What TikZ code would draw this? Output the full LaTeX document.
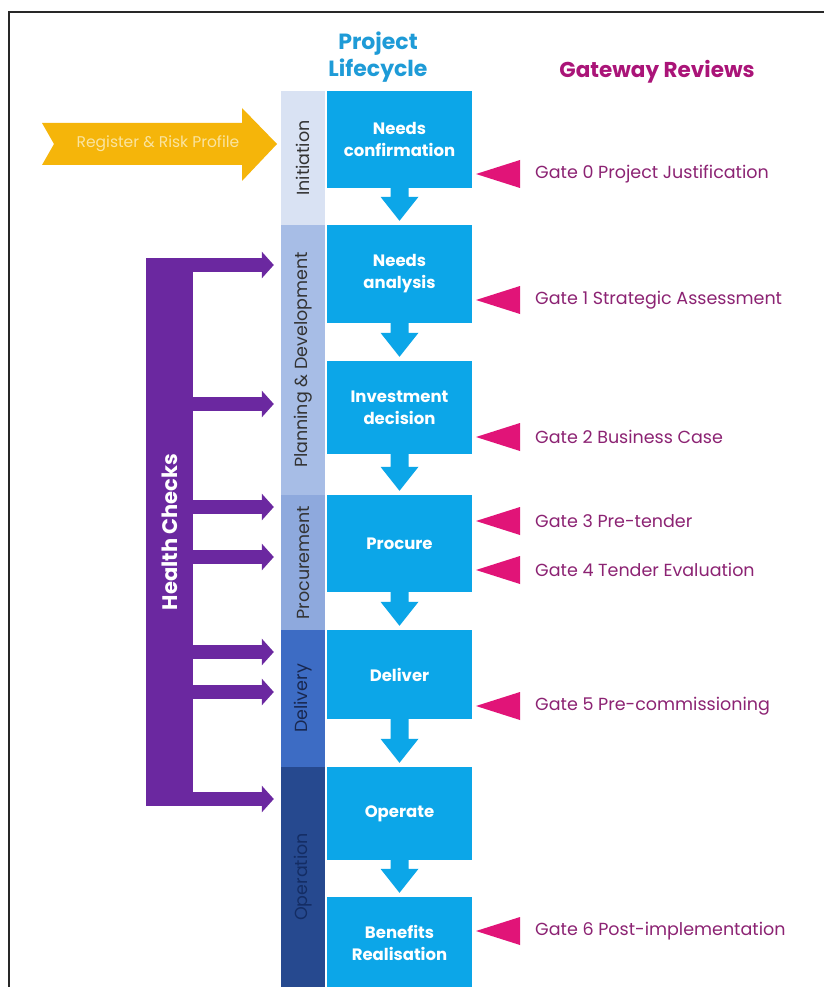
\documentclass[tikz,border=0pt]{standalone}
\usepackage{fontspec}
\setmainfont{Poppins}
\usetikzlibrary{calc,arrows.meta}
\definecolor{boxblue}{RGB}{12,166,232}
\definecolor{titleblue}{RGB}{30,155,215}
\definecolor{phA}{RGB}{217,226,243}
\definecolor{phB}{RGB}{167,189,230}
\definecolor{phC}{RGB}{142,169,221}
\definecolor{phD}{RGB}{61,108,196}
\definecolor{phE}{RGB}{38,73,143}
\definecolor{hcpurple}{RGB}{107,40,160}
\definecolor{regyellow}{RGB}{245,181,10}
\definecolor{regtext}{RGB}{250,228,160}
\definecolor{gatepink}{RGB}{225,20,120}
\definecolor{gatetext}{RGB}{140,35,115}
\definecolor{gwtitle}{RGB}{170,20,120}
\definecolor{framegray}{RGB}{40,40,40}
\tikzset{
  phase/.style={rotate=90, minimum height=44pt, inner sep=0pt, font=\fontsize{17.5}{20}\selectfont},
  stagebox/.style={fill=boxblue, minimum width=145pt, inner sep=0pt, text=white, align=center, font=\bfseries\fontsize{16.5}{22}\selectfont},
  gatelbl/.style={anchor=west, inner sep=0pt, text=gatetext, font=\fontsize{17.5}{20}\selectfont},
  hcarrow/.style={hcpurple, line width=14pt, -{Triangle[width=26pt,length=12pt]}, shorten >=7pt},
}
\begin{document}
\begin{tikzpicture}[x=1pt,y=-1pt]
\useasboundingbox (0,0) rectangle (824,987);
\fill[white] (0,0) rectangle (824,987);
\draw[framegray, line width=2pt] (8.5,987) -- (8.5,12.5) -- (824,12.5);

% titles
\node[text=titleblue, align=center, font=\bfseries\fontsize{22}{27}\selectfont] (plc) at (378,57) {Project\\Lifecycle};
\node[text=gwtitle, font=\bfseries\fontsize{21.5}{24}\selectfont] (gwr) at (657,72) {Gateway Reviews};

% phases
\node[phase, fill=phA, minimum width=134pt, text=black!80] (ph1) at (303,158) {Initiation};
\node[phase, fill=phB, minimum width=270pt, text=black!80] (ph2) at (303,360) {Planning \& Development};
\node[phase, fill=phC, minimum width=135pt, text=black!80] (ph3) at (303,562.5) {Procurement};
\node[phase, fill=phD, minimum width=137pt, text={rgb,255:red,25;green,40;blue,80}] (ph4) at (303,698.5) {Delivery};
\node[phase, fill=phE, minimum width=220pt, text={rgb,255:red,20;green,45;blue,100}] (ph5) at (303,877) {Operation};

% stage boxes
\node[stagebox, minimum height=97pt] (b1) at (399.5,139.5) {Needs\\confirmation};
\node[stagebox, minimum height=98pt] (b2) at (399.5,274) {Needs\\analysis};
\node[stagebox, minimum height=93pt] (b3) at (399.5,407.5) {Investment\\decision};
\node[stagebox, minimum height=97pt] (b4) at (399.5,543.5) {Procure};
\node[stagebox, minimum height=89pt] (b5) at (399.5,674.5) {Deliver};
\node[stagebox, minimum height=93pt] (b6) at (399.5,813.5) {Operate};
\node[stagebox, minimum height=92pt] (b7) at (399.5,943) {Benefits\\Realisation};

% down block arrows
\foreach \a/\b in {b1/b2,b2/b3,b3/b4,b4/b5,b5/b6,b6/b7}{
  \fill[boxblue] ($(\a.south)+(-9,0)$) -- ($(\a.south)+(9,0)$) -- ($(\b.north)+(9,-28)$)
    -- ($(\b.north)+(19,-28)$) -- ($(\b.north)+(0,-4)$) -- ($(\b.north)+(-19,-28)$)
    -- ($(\b.north)+(-9,-28)$) -- cycle;
}

% register arrow
\fill[regyellow] (42,123) -- (242,123) -- (242,108) -- (277,144) -- (242,181) -- (242,165) -- (42,165) -- (54,144) -- cycle;
\node[text=regtext, font=\fontsize{15.5}{18}\selectfont] (reg) at (158,144) {Register \& Risk Profile};

% health checks
\node[fill=hcpurple, rotate=90, minimum width=548pt, minimum height=47pt, inner sep=0pt, text=white, font=\bfseries\fontsize{21}{24}\selectfont] (hc) at (169.5,532) {Health Checks};
\coordinate (y1) at (0,265);
\coordinate (y2) at (0,404);
\coordinate (y3) at (0,507);
\coordinate (y4) at (0,557);
\coordinate (y5) at (0,652);
\coordinate (y6) at (0,692);
\coordinate (y7) at (0,799);
\draw[hcarrow] ($(hc.south |- y1)+(-0.5,0)$) -- (ph2.north |- y1);
\draw[hcarrow] ($(hc.south |- y2)+(-0.5,0)$) -- (ph2.north |- y2);
\draw[hcarrow] ($(hc.south |- y3)+(-0.5,0)$) -- (ph3.north |- y3);
\draw[hcarrow] ($(hc.south |- y4)+(-0.5,0)$) -- (ph3.north |- y4);
\draw[hcarrow] ($(hc.south |- y5)+(-0.5,0)$) -- (ph4.north |- y5);
\draw[hcarrow] ($(hc.south |- y6)+(-0.5,0)$) -- (ph4.north |- y6);
\draw[hcarrow] ($(hc.south |- y7)+(-0.5,0)$) -- (ph5.north |- y7);

% gates
\node[gatelbl] (g0) at (535,174) {Gate 0 Project Justification};
\node[gatelbl] (g1) at (535,300) {Gate 1 Strategic Assessment};
\node[gatelbl] (g2) at (535,437) {Gate 2 Business Case};
\node[gatelbl] (g3) at (535,521) {Gate 3 Pre-tender};
\node[gatelbl] (g4) at (535,570) {Gate 4 Tender Evaluation};
\node[gatelbl] (g5) at (535,706) {Gate 5 Pre-commissioning};
\node[gatelbl] (g6) at (535,931) {Gate 6 Post-implementation};
\foreach \g in {g0,g1,g2,g3,g4,g5,g6}{
  \fill[gatepink] ($(\g.west)+(-59,0)$) -- ($(\g.west)+(-15,-14)$) -- ($(\g.west)+(-15,14)$) -- cycle;
}
\end{tikzpicture}
\end{document}
